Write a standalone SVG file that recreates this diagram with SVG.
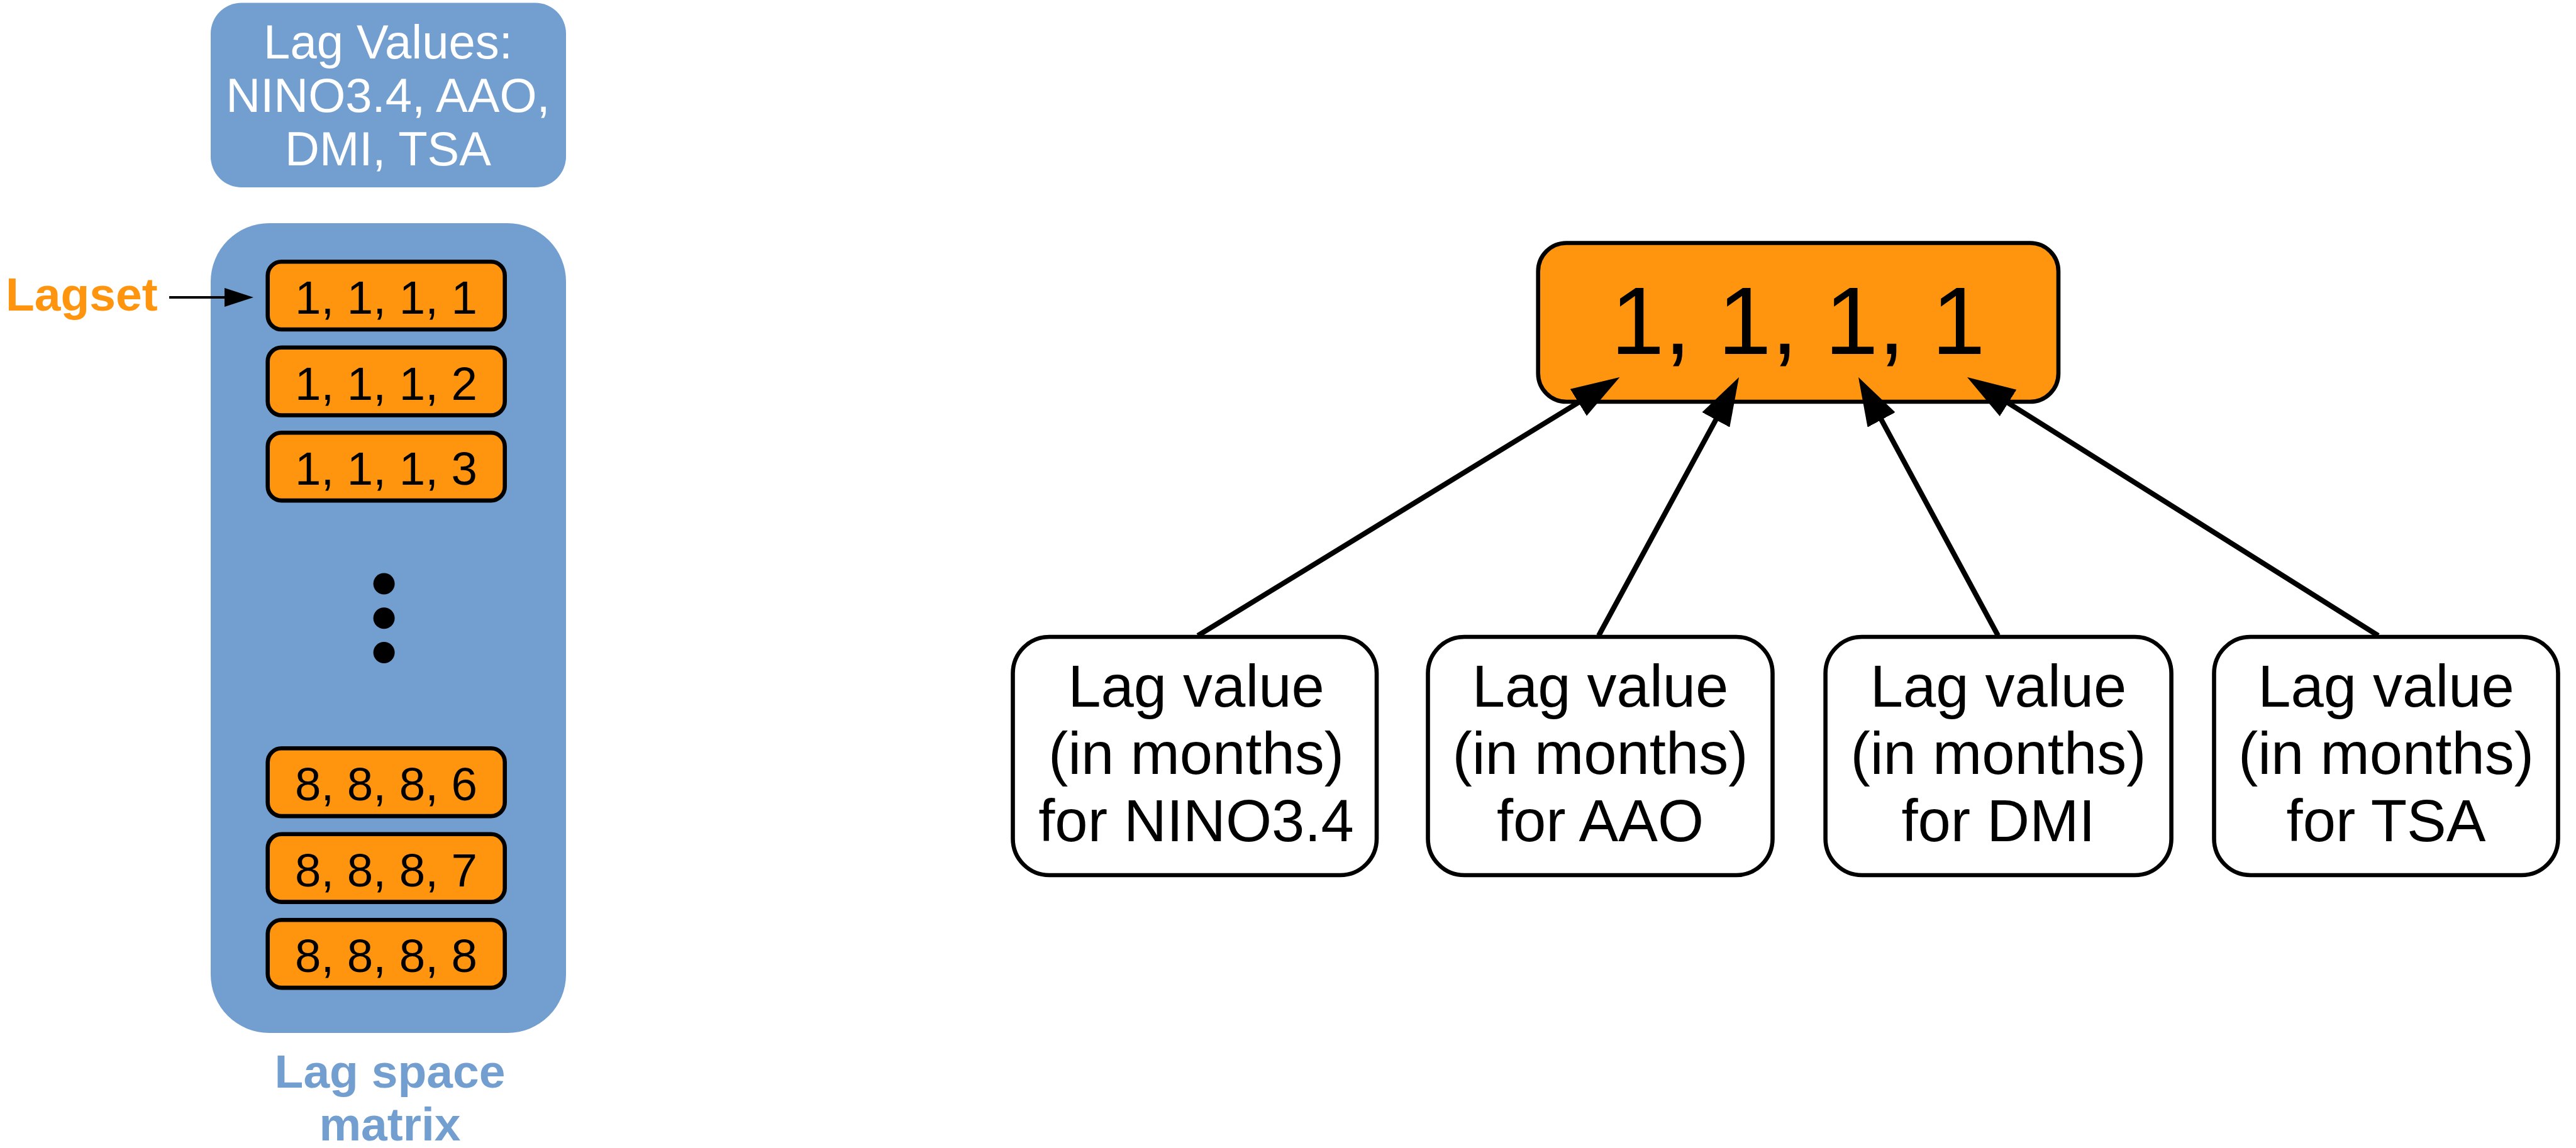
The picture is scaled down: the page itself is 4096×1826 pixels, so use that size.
<svg xmlns="http://www.w3.org/2000/svg" width="4096" height="1826" viewBox="0 0 4096 1826">
  <defs>
    <style>
      .panel { fill: #729fcf; }
      .cell { fill: #ff950e; stroke: #000; stroke-width: 6.6; }
      .cell-text { font-family: "Liberation Sans", Arial, sans-serif; font-size: 74.5px; fill: #000; text-anchor: middle; }
      .head-text { font-family: "Liberation Sans", Arial, sans-serif; font-size: 76px; fill: #fff; text-anchor: middle; }
      .label { font-family: "Liberation Sans", Arial, sans-serif; font-weight: bold; font-size: 75px; }
      .src { fill: #fff; stroke: #000; stroke-width: 6.6; }
      .src-text { font-family: "Liberation Sans", Arial, sans-serif; font-size: 94px; fill: #000; text-anchor: middle; }
      .big-text { font-family: "Liberation Sans", Arial, sans-serif; font-size: 153px; fill: #000; text-anchor: middle; }
      .edge { stroke: #000; stroke-width: 8.2; fill: none; marker-end: url(#arrow); }
    </style>
    <marker id="arrow" markerUnits="userSpaceOnUse" markerWidth="77" markerHeight="50" refX="57" refY="25" orient="auto">
      <path d="M0,0 L77,25 L0,50 z" fill="#000"/>
    </marker>
    <marker id="arrow-small" markerUnits="userSpaceOnUse" markerWidth="46" markerHeight="30" refX="40" refY="15" orient="auto">
      <path d="M0,0 L46,15 L0,30 z" fill="#000"/>
    </marker>
  </defs>

  <rect width="4096" height="1826" fill="#fff"/>

  <!-- header panel listing the indices -->
  <g id="lag-values">
    <rect class="panel" x="335" y="4.5" width="565" height="293.5" rx="49" ry="49"/>
    <text class="head-text" x="617" y="92.5">Lag Values:</text>
    <text class="head-text" x="617" y="178">NINO3.4, AAO,</text>
    <text class="head-text" x="617" y="263">DMI, TSA</text>
  </g>

  <!-- lag space matrix panel -->
  <g id="lag-space-matrix">
    <rect class="panel" x="335" y="355" width="565" height="1288" rx="93" ry="93"/>
    <text class="label" x="620" y="1730" fill="#729fcf" text-anchor="middle">Lag space</text>
    <text class="label" x="620" y="1814" fill="#729fcf" text-anchor="middle">matrix</text>
  </g>

  <g id="row-1111">
    <rect class="cell" x="425.7" y="416.2" width="377" height="107.8" rx="22"/>
    <text class="cell-text" x="614" y="499.3">1, 1, 1, 1</text>
  </g>
  <g id="row-1112">
    <rect class="cell" x="425.7" y="552.7" width="377" height="107.8" rx="22"/>
    <text class="cell-text" x="614" y="635.8">1, 1, 1, 2</text>
  </g>
  <g id="row-1113">
    <rect class="cell" x="425.7" y="688.3" width="377" height="107.8" rx="22"/>
    <text class="cell-text" x="614" y="771.4">1, 1, 1, 3</text>
  </g>

  <g id="ellipsis">
    <circle cx="610.6" cy="928.5" r="17"/>
    <circle cx="610.6" cy="983.3" r="17"/>
    <circle cx="610.6" cy="1038" r="17"/>
  </g>

  <g id="row-8886">
    <rect class="cell" x="425.7" y="1190.3" width="377" height="107.8" rx="22"/>
    <text class="cell-text" x="614" y="1273.4">8, 8, 8, 6</text>
  </g>
  <g id="row-8887">
    <rect class="cell" x="425.7" y="1326.8" width="377" height="107.8" rx="22"/>
    <text class="cell-text" x="614" y="1409.9">8, 8, 8, 7</text>
  </g>
  <g id="row-8888">
    <rect class="cell" x="425.7" y="1463.3" width="377" height="107.8" rx="22"/>
    <text class="cell-text" x="614" y="1546.4">8, 8, 8, 8</text>
  </g>

  <g id="lagset-label">
    <text class="label" x="9" y="494" fill="#ff950e">Lagset</text>
  </g>

  <!-- enlarged lagset -->
  <g id="lagset">
    <rect class="cell" x="2445.7" y="386.5" width="827.3" height="252.5" rx="45"/>
    <text class="big-text" x="2859" y="563">1, 1, 1, 1</text>
  </g>

  <g id="nino34">
    <rect class="src" x="1610.5" y="1013" width="578.5" height="379" rx="58"/>
    <text class="src-text" x="1902" y="1124">Lag value</text>
    <text class="src-text" x="1902" y="1231">(in months)</text>
    <text class="src-text" x="1902" y="1338">for NINO3.4</text>
  </g>
  <g id="aao">
    <rect class="src" x="2270.5" y="1013" width="548" height="379" rx="58"/>
    <text class="src-text" x="2544.5" y="1124">Lag value</text>
    <text class="src-text" x="2544.5" y="1231">(in months)</text>
    <text class="src-text" x="2544.5" y="1338">for AAO</text>
  </g>
  <g id="dmi">
    <rect class="src" x="2902.6" y="1013" width="550" height="379" rx="58"/>
    <text class="src-text" x="3177.5" y="1124">Lag value</text>
    <text class="src-text" x="3177.5" y="1231">(in months)</text>
    <text class="src-text" x="3177.5" y="1338">for DMI</text>
  </g>
  <g id="tsa">
    <rect class="src" x="3520.5" y="1013" width="547" height="379" rx="58"/>
    <text class="src-text" x="3794" y="1124">Lag value</text>
    <text class="src-text" x="3794" y="1231">(in months)</text>
    <text class="src-text" x="3794" y="1338">for TSA</text>
  </g>

  <g id="connectors">
    <line x1="269" y1="473" x2="397" y2="473" stroke="#000" stroke-width="4" marker-end="url(#arrow-small)"/>
    <line class="edge" x1="1904.7" y1="1011" x2="2558.4" y2="610.4"/>
    <line class="edge" x1="2542" y1="1011" x2="2755.5" y2="617.6"/>
    <line class="edge" x1="3177" y1="1011" x2="2964.5" y2="617.6"/>
    <line class="edge" x1="3781.5" y1="1011" x2="3144.9" y2="610.6"/>
  </g>
</svg>
